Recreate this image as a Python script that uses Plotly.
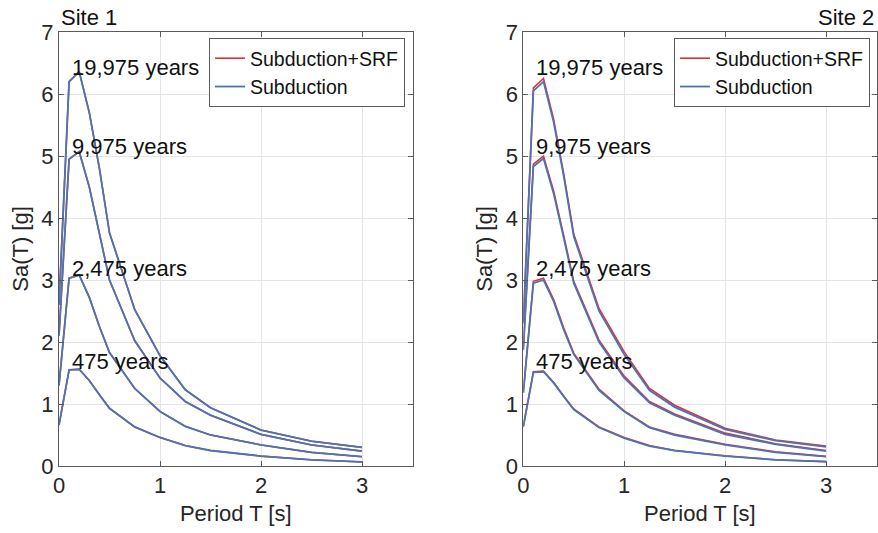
import plotly.graph_objects as go

# Periods [s]
periods = [0, 0.1, 0.2, 0.3, 0.4, 0.5, 0.75, 1.0, 1.25, 1.5, 2.0, 2.5, 3.0]

return_periods = ["475 years", "2,475 years", "9,975 years", "19,975 years"]

# Site 1 - Subduction
s1_sub_475   = [0.66, 1.55, 1.56, 1.38, 1.15, 0.93, 0.63, 0.46, 0.33, 0.25, 0.16, 0.10, 0.065]
s1_sub_2475  = [1.30, 3.03, 3.08, 2.72, 2.25, 1.83, 1.25, 0.88, 0.64, 0.50, 0.34, 0.22, 0.15]
s1_sub_9975  = [2.10, 4.95, 5.07, 4.50, 3.75, 3.00, 2.02, 1.42, 1.04, 0.82, 0.51, 0.34, 0.24]
s1_sub_19975 = [2.60, 6.20, 6.36, 5.70, 4.80, 3.76, 2.52, 1.78, 1.23, 0.94, 0.58, 0.40, 0.30]
# Site 1 - Subduction+SRF (coincides with subduction)
s1_srf_475   = [0.66, 1.55, 1.56, 1.38, 1.15, 0.93, 0.63, 0.46, 0.33, 0.25, 0.16, 0.10, 0.065]
s1_srf_2475  = [1.30, 3.03, 3.08, 2.72, 2.25, 1.83, 1.25, 0.88, 0.64, 0.50, 0.34, 0.22, 0.15]
s1_srf_9975  = [2.10, 4.95, 5.07, 4.50, 3.75, 3.00, 2.02, 1.42, 1.04, 0.82, 0.51, 0.34, 0.24]
s1_srf_19975 = [2.60, 6.20, 6.36, 5.70, 4.80, 3.76, 2.52, 1.78, 1.23, 0.94, 0.58, 0.40, 0.30]

# Site 2 - Subduction
s2_sub_475   = [0.63, 1.51, 1.52, 1.34, 1.12, 0.91, 0.62, 0.45, 0.32, 0.25, 0.16, 0.10, 0.07]
s2_sub_2475  = [1.18, 2.95, 3.00, 2.66, 2.20, 1.80, 1.22, 0.88, 0.62, 0.50, 0.34, 0.22, 0.15]
s2_sub_9975  = [1.87, 4.83, 4.96, 4.40, 3.68, 2.95, 2.00, 1.42, 1.02, 0.82, 0.51, 0.35, 0.24]
s2_sub_19975 = [2.30, 6.05, 6.20, 5.55, 4.68, 3.70, 2.50, 1.80, 1.22, 0.95, 0.59, 0.41, 0.31]
# Site 2 - Subduction+SRF
s2_srf_475   = [0.64, 1.52, 1.53, 1.35, 1.13, 0.92, 0.63, 0.46, 0.33, 0.25, 0.165, 0.10, 0.07]
s2_srf_2475  = [1.19, 2.98, 3.03, 2.69, 2.23, 1.82, 1.24, 0.89, 0.63, 0.51, 0.35, 0.23, 0.155]
s2_srf_9975  = [1.89, 4.87, 5.00, 4.44, 3.72, 2.98, 2.03, 1.45, 1.04, 0.84, 0.53, 0.36, 0.25]
s2_srf_19975 = [2.33, 6.10, 6.25, 5.60, 4.72, 3.74, 2.54, 1.84, 1.25, 0.98, 0.61, 0.42, 0.32]

# Label anchor positions (period, Sa)
label_x = [0.105, 0.105, 0.105, 0.105]
label_y_s1 = [1.68, 3.19, 5.15, 6.42]
label_y_s2 = [1.68, 3.19, 5.15, 6.42]

RED = "#e0303c"
BLUE = "#4a74b2"
FONT = "Liberation Sans, Arial, sans-serif"
W, H = 878, 533

fig = go.Figure()

panels = [
    ("x", "y", "legend", [s1_srf_475, s1_srf_2475, s1_srf_9975, s1_srf_19975],
     [s1_sub_475, s1_sub_2475, s1_sub_9975, s1_sub_19975]),
    ("x2", "y2", "legend2", [s2_srf_475, s2_srf_2475, s2_srf_9975, s2_srf_19975],
     [s2_sub_475, s2_sub_2475, s2_sub_9975, s2_sub_19975]),
]

for xa, ya, lg, srf, sub in panels:
    for i, vals in enumerate(srf):
        fig.add_trace(go.Scatter(x=periods, y=vals, mode="lines", xaxis=xa, yaxis=ya,
                                 line=dict(color=RED, width=1.6), name="Subduction+SRF",
                                 legend=lg, showlegend=(i == 0), hoverinfo="skip"))
    for i, vals in enumerate(sub):
        fig.add_trace(go.Scatter(x=periods, y=vals, mode="lines", xaxis=xa, yaxis=ya,
                                 line=dict(color=BLUE, width=1.8), name="Subduction",
                                 legend=lg, showlegend=(i == 0), hoverinfo="skip"))

annotations = []
for xref, yref, ys in [("x", "y", label_y_s1), ("x2", "y2", label_y_s2)]:
    for txt, lx, ly in zip(return_periods, label_x, ys):
        annotations.append(dict(x=lx, y=ly, xref=xref, yref=yref, text=txt, showarrow=False,
                                xanchor="left", yanchor="middle",
                                font=dict(family=FONT, size=22, color="#111111")))

annotations.append(dict(x=59 / W, y=1 - 18 / H, xref="paper", yref="paper", text="Site 1",
                        showarrow=False, xanchor="left", yanchor="middle",
                        font=dict(family=FONT, size=22, color="#111111")))
annotations.append(dict(x=876 / W, y=1 - 18 / H, xref="paper", yref="paper", text="Site 2",
                        showarrow=False, xanchor="right", yanchor="middle",
                        font=dict(family=FONT, size=22, color="#111111")))

axis_common = dict(showline=True, mirror="ticks", linecolor="#5a5a5a", linewidth=1,
                   ticks="inside", ticklen=5, tickcolor="#5a5a5a",
                   showgrid=True, gridcolor="#e4e4e4", gridwidth=1, zeroline=False,
                   automargin=False,
                   tickfont=dict(family=FONT, size=22, color="#262626"))

y_dom = [1 - 466 / H, 1 - 32 / H]

fig.update_layout(
    width=W, height=H,
    margin=dict(l=0, r=0, t=0, b=0, autoexpand=False),
    paper_bgcolor="white", plot_bgcolor="white",
    font=dict(family=FONT, size=22, color="#262626"),
    xaxis=dict(domain=[59 / W, 412.5 / W], range=[0, 3.5], tickvals=[0, 1, 2, 3],
               title=dict(text="Period T [s]", font=dict(family=FONT, size=22, color="#262626"), standoff=8),
               anchor="y", **axis_common),
    yaxis=dict(domain=y_dom, range=[0, 7], tickvals=list(range(8)),
               title=dict(text="Sa(T) [g]", font=dict(family=FONT, size=22, color="#262626"), standoff=6),
               anchor="x", **axis_common),
    xaxis2=dict(domain=[523.3 / W, 876.5 / W], range=[0, 3.5], tickvals=[0, 1, 2, 3],
                title=dict(text="Period T [s]", font=dict(family=FONT, size=22, color="#262626"), standoff=8),
                anchor="y2", **axis_common),
    yaxis2=dict(domain=y_dom, range=[0, 7], tickvals=list(range(8)),
                title=dict(text="Sa(T) [g]", font=dict(family=FONT, size=22, color="#262626"), standoff=6),
                anchor="x2", **axis_common),
    legend=dict(x=405 / W, y=1 - 38 / H, xanchor="right", yanchor="top",
                bgcolor="white", bordercolor="#5a5a5a", borderwidth=1,
                font=dict(family=FONT, size=19.5, color="#111111"),
                itemwidth=30, tracegroupgap=0),
    legend2=dict(x=870 / W, y=1 - 38 / H, xanchor="right", yanchor="top",
                 bgcolor="white", bordercolor="#5a5a5a", borderwidth=1,
                 font=dict(family=FONT, size=19.5, color="#111111"),
                 itemwidth=30, tracegroupgap=0),
    annotations=annotations,
    showlegend=True,
)

fig.write_html("out.html")
